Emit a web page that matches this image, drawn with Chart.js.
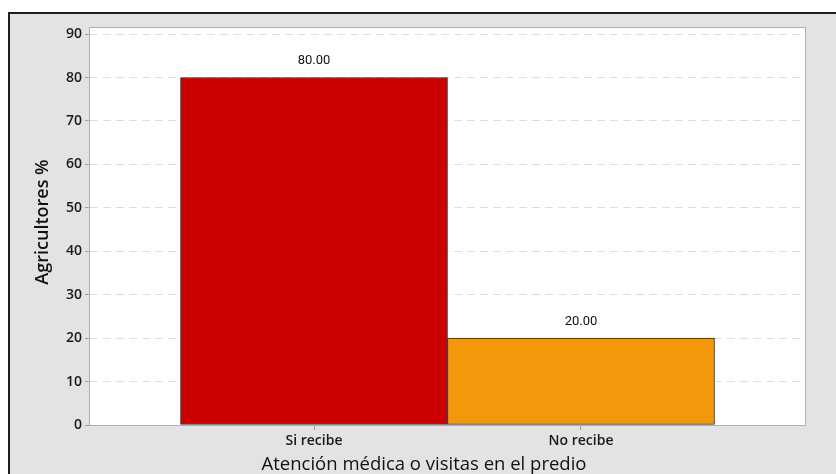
<!DOCTYPE html>
<html>
<head>
<meta charset="utf-8">
<script src="https://cdn.jsdelivr.net/npm/chart.js@4.4.1/dist/chart.umd.min.js"></script>
<style>
  html, body { margin: 0; padding: 0; background: #fff; }
  #frame {
    position: absolute; left: 8px; top: 12px; width: 840px; height: 480px;
    border: 2px solid #1e1e1e; background: #e3e3e3;
  }
  #wrap { position: absolute; left: 0; top: 0; width: 836px; height: 474px; }
</style>
</head>
<body>
<div id="frame"></div>
<div id="wrap"><canvas id="chart" width="836" height="474"></canvas></div>
<script>
// categorías y valores
const categories = ['Si recibe', 'No recibe'];
const values = [80.00, 20.00];
const barColors = ['#cc0000', '#f4980b'];
const yTicks = [0, 10, 20, 30, 40, 50, 60, 70, 80, 90];
const xTitle = 'Atención médica o visitas en el predio';
const yTitle = 'Agricultores %';

const tickFont = { family: 'Open Sans', size: 14, weight: '600' };

// fondo blanco del área, borde y textos
const framePlugin = {
  id: 'framePlugin',
  beforeDraw(chart) {
    const a = chart.chartArea, c = chart.ctx;
    c.save();
    c.fillStyle = '#fff';
    c.fillRect(a.left, a.top, a.right - a.left, a.bottom - a.top);
    c.restore();
  },
  afterDraw(chart) {
    const a = chart.chartArea, c = chart.ctx;
    c.save();
    c.strokeStyle = '#b0b0b0';
    c.lineWidth = 1;
    c.strokeRect(a.left - 0.5, a.top - 0.5, a.right - a.left + 1, a.bottom - a.top + 1);

    // etiquetas de valor
    const meta = chart.getDatasetMeta(0);
    c.fillStyle = '#111';
    c.font = '13px Roboto';
    c.textAlign = 'center';
    c.textBaseline = 'bottom';
    meta.data.forEach((bar, i) => {
      c.fillText(values[i].toFixed(2), bar.x, bar.y - 10);
    });

    // títulos de ejes
    c.fillStyle = '#111';
    c.font = '500 18.5px "Open Sans"';
    c.textBaseline = 'middle';
    c.fillText(xTitle, 424, 465);
    c.translate(43, 222);
    c.rotate(-Math.PI / 2);
    c.font = '600 18px "Open Sans"';
    c.fillText(yTitle, 0, 0);
    c.restore();
  }
};

new Chart(document.getElementById('chart'), {
  type: 'bar',
  data: {
    datasets: [{
      data: values.map((v, i) => ({ x: i, y: v })),
      backgroundColor: barColors,
      borderColor: '#2a2a2a',
      borderWidth: 1,
      borderSkipped: false,
      barPercentage: 1,
      categoryPercentage: 1
    }]
  },
  options: {
    responsive: false,
    animation: false,
    layout: { padding: { top: 28, right: 31, left: 0, bottom: 0 } },
    plugins: { legend: { display: false }, tooltip: { enabled: false } },
    scales: {
      x: {
        type: 'linear',
        offset: false,
        min: -0.839,
        max: 1.839,
        afterBuildTicks(scale) {
          scale.ticks = categories.map((_, i) => ({ value: i }));
        },
        afterFit(scale) { scale.height = 49; },
        border: { display: false },
        grid: { offset: false, drawOnChartArea: false, drawTicks: true, tickLength: 5, tickColor: '#a0a0a0' },
        ticks: {
          autoSkip: false,
          maxRotation: 0,
          color: '#1a1a1a',
          font: tickFont,
          padding: 3,
          callback: v => categories[v]
        }
      },
      y: {
        min: 0,
        max: 91.4,
        afterBuildTicks(scale) {
          scale.ticks = yTicks.map(v => ({ value: v }));
        },
        afterFit(scale) { scale.width = 90; },
        border: { display: false, dash: [8, 5] },
        grid: {
          color: ctx => ctx.tick.value === 0 ? 'rgba(0,0,0,0)' : '#dddddd',
          tickColor: '#a0a0a0',
          tickLength: 5,
          tickBorderDash: []
        },
        ticks: {
          color: '#1a1a1a',
          font: tickFont,
          padding: 3
        }
      }
    }
  },
  plugins: [framePlugin]
});
</script>
</body>
</html>
